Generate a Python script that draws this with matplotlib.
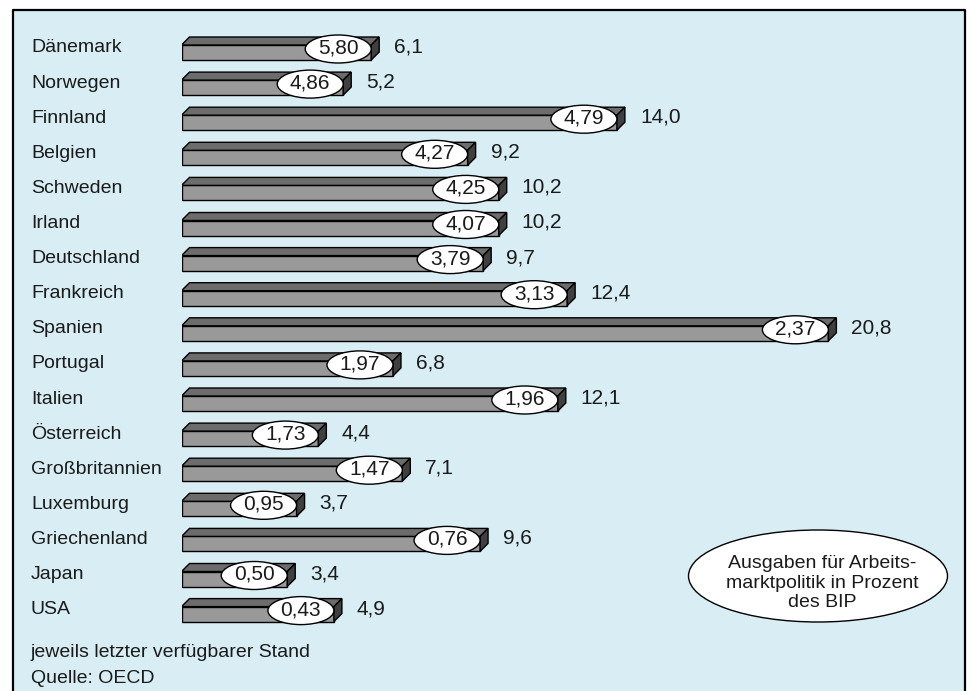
import matplotlib
matplotlib.use('Agg')
import matplotlib.pyplot as plt
from matplotlib.patches import Rectangle, Polygon, Ellipse
from matplotlib.transforms import blended_transform_factory

plt.rcParams['font.family'] = ['Liberation Sans', 'DejaVu Sans']

countries = ['Dänemark', 'Norwegen', 'Finnland', 'Belgien', 'Schweden', 'Irland',
             'Deutschland', 'Frankreich', 'Spanien', 'Portugal', 'Italien',
             'Österreich', 'Großbritannien', 'Luxemburg', 'Griechenland', 'Japan', 'USA']
# bar length (right-hand label)
unemployment = [6.1, 5.2, 14.0, 9.2, 10.2, 10.2, 9.7, 12.4, 20.8, 6.8, 12.1,
                4.4, 7.1, 3.7, 9.6, 3.4, 4.9]
# value in the ellipse: spending on labour market policy, % of GDP
spending = [5.80, 4.86, 4.79, 4.27, 4.25, 4.07, 3.79, 3.13, 2.37, 1.97, 1.96,
            1.73, 1.47, 0.95, 0.76, 0.50, 0.43]

legend_lines = ['Ausgaben für Arbeits-', 'marktpolitik in Prozent', 'des BIP']
notes = ['jeweils letzter verfügbarer Stand', 'Quelle: OECD']

W, H = 971, 691
fig = plt.figure(figsize=(W / 100, H / 100), dpi=100)
fig.patch.set_facecolor('white')

# light blue panel with black frame (open at the bottom)
panel = Rectangle((12.5 / W, -0.05), (965 - 12.5) / W, 1.05 - 9.5 / H,
                  transform=fig.transFigure, facecolor='#d8eef4', edgecolor='none', zorder=-2)
fig.patches.append(panel)
frame_x = [12.5 / W, 12.5 / W, 965 / W, 965 / W]
frame_y = [0, 1 - 9.5 / H, 1 - 9.5 / H, 0]
fig.add_artist(plt.Line2D(frame_x, frame_y, transform=fig.transFigure, color='black',
                          lw=1.6, zorder=-1))

# axes: x in units, y in rows
kx = 31.1   # px per unit
ky = 35.1   # px per row
ax_left = 181.5
ax_top = 45 - ky
ax_bottom = 45 + ky * 17
ax = fig.add_axes([ax_left / W, 1 - ax_bottom / H, 25 * kx / W, (ax_bottom - ax_top) / H])
ax.set_xlim(0, 25)
ax.set_ylim(17, -1)
ax.axis('off')
ax.set_zorder(1)

px = 1 / kx
py = 1 / ky
dx, dy = 8 * px, 8 * py
hfront = 15 * py
fs = 14
fs_num = 15
tcol = '#1a1a1a'

lab_tr = blended_transform_factory(fig.transFigure, ax.transData)

for i, (name, v, s) in enumerate(zip(countries, unemployment, spending)):
    y = i
    front = Rectangle((0, y), v, hfront, facecolor='#999999', edgecolor='black', lw=1, zorder=2)
    top = Polygon([(0, y), (v, y), (v + dx, y - dy), (dx, y - dy)], closed=True,
                  facecolor='#6c6c6c', edgecolor='black', lw=1, zorder=2)
    side = Polygon([(v, y), (v + dx, y - dy), (v + dx, y - dy + hfront), (v, y + hfront)],
                   closed=True, facecolor='#3f3f3f', edgecolor='black', lw=1, zorder=2)
    for p in (front, top, side):
        ax.add_patch(p)
    ell = Ellipse((v - 33 * px, y + 4 * py), 66 * px, 28 * py, facecolor='white',
                  edgecolor='black', lw=1, zorder=3)
    ax.add_patch(ell)
    ax.text(v - 33 * px, y + 8.5 * py, f'{s:.2f}'.replace('.', ','), ha='center',
            va='baseline', fontsize=fs_num, color=tcol, zorder=4)
    ax.text(v + 23 * px, y + 7.5 * py, f'{v:.1f}'.replace('.', ','), ha='left',
            va='baseline', fontsize=fs_num, color=tcol)
    ax.text(31 / W, y + 7.5 * py, name, transform=lab_tr, ha='left', va='baseline',
            fontsize=fs, color=tcol)

# legend ellipse
leg = Ellipse((818 / W, 1 - 576 / H), 259 / W, 92 / H, transform=fig.transFigure,
              facecolor='white', edgecolor='black', lw=1, zorder=3)
fig.patches.append(leg)
for k, line in enumerate(legend_lines):
    fig.text(822 / W, 1 - (568 + 19.5 * k) / H, line, ha='center', va='baseline',
             fontsize=fs, color=tcol, zorder=4)

for k, line in enumerate(notes):
    fig.text(31 / W, 1 - (657 + 26 * k) / H, line, ha='left', va='baseline',
             fontsize=fs, color=tcol)

fig.savefig('out.png', dpi=100)
